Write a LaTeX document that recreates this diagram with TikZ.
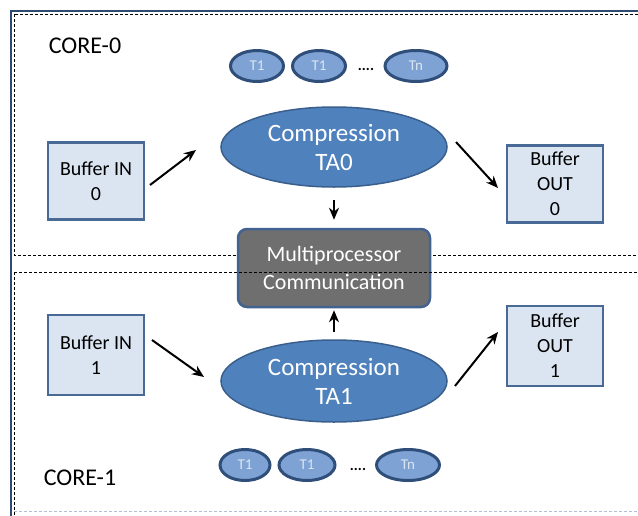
\documentclass[tikz,border=0pt]{standalone}
\usepackage{fontspec}
\setmainfont{Carlito}
\usetikzlibrary{positioning, shapes.geometric, arrows.meta}

\definecolor{navyline}{HTML}{2C4A72}
\definecolor{bufffill}{HTML}{DBE5F1}
\definecolor{buffline}{HTML}{4A6A96}
\definecolor{compfill}{HTML}{4F81BD}
\definecolor{compline}{HTML}{3A5F8C}
\definecolor{taskfill}{HTML}{7EA2D4}
\definecolor{taskline}{HTML}{2F4F7A}
\definecolor{mpfill}{HTML}{6F6F6F}
\definecolor{mpline}{HTML}{42628F}

\begin{document}
\begin{tikzpicture}[x=1pt, y=-1pt,
    buffbox/.style={draw=buffline, line width=2.5pt, fill=bufffill,
      minimum width=96pt, minimum height=77pt, align=center,
      font=\fontsize{20}{25}\selectfont},
    comp/.style={ellipse, draw=compline, line width=1.5pt, fill=compfill,
      minimum width=226pt, minimum height=80pt, inner sep=0pt, align=center,
      text=white, font=\fontsize{25}{29}\selectfont},
    task/.style={ellipse, draw=taskline, line width=3pt, fill=taskfill,
      minimum width=53pt, minimum height=31pt, inner sep=0pt,
      text=bufffill, font=\fontsize{15}{15}\selectfont},
    corelabel/.style={font=\fontsize{24}{24}\selectfont},
    dots/.style={font=\bfseries\fontsize{15}{15}\selectfont},
    flow/.style={-{Stealth[length=12pt, width=10pt]}, line width=2pt},
    ]
  \useasboundingbox (0,0) rectangle (638,515);

  % core frames
  \draw[line width=0.7pt, dash pattern=on 3pt off 2pt] (14,14) rectangle (645,255);
  \draw[navyline, line width=2.5pt] (11,520) -- (11,11) -- (645,11);

  \node[corelabel] (core0) at (85,46) {CORE-0};
  \node[corelabel] (core1) at (80,478) {CORE-1};

  % tasks of core 0
  \node[task] (t01) at (257,66) {T1};
  \node[task, right=6pt of t01] (t02) {T1};
  \node[task, minimum width=62pt] (t0n) at (416,66) {Tn};
  \node[dots] (d0) at (366,69) {....};

  % buffers and compression of core 0
  \node[buffbox] (in0) at (96,181) {Buffer IN\\0};
  \node[comp] (ta0) at (334,147) {Compression\\TA0};
  \node[buffbox] (out0) at (555,184) {Buffer\\OUT\\0};

  % multiprocessor link
  \node[draw=mpline, line width=2.5pt, fill=mpfill, rounded corners=9pt,
    minimum width=192pt, minimum height=78pt, align=center, text=white,
    font=\fontsize{22}{28}\selectfont] (mp) at (334,268)
    {Multiprocessor\\Communication};
  \draw[line width=0.7pt, dash pattern=on 3pt off 2pt] (14,272) -- (645,272);
  \draw[line width=0.7pt, dash pattern=on 3pt off 2pt] (14,272) -- (14,520);
  \draw[bufffill!70!buffline, line width=0.7pt, dash pattern=on 3pt off 2pt] (14,511) -- (645,511);

  % buffers and compression of core 1
  \node[buffbox, minimum height=80pt] (in1) at (96,355) {Buffer IN\\1};
  \node[comp, minimum height=82pt] (ta1) at (334,381) {Compression\\TA1};
  \node[buffbox, minimum height=80pt] (out1) at (555,346) {Buffer\\OUT\\1};

  % tasks of core 1
  \node[task, minimum width=50pt] (t11) at (245,465) {T1};
  \node[task, minimum width=56pt, right=6pt of t11] (t12) {T1};
  \node[task, minimum width=63pt] (t1n) at (408,465) {Tn};
  \node[dots] (d1) at (358,469) {....};

  % arrows
  \coordinate (a0s) at (150,185);
  \coordinate (a0e) at (196,150);
  \draw[flow] (a0s) -- (a0e);
  \coordinate (b0s) at (456,142);
  \coordinate (b0e) at (498,188);
  \draw[flow] (b0s) -- (b0e);
  \draw[flow, shorten <=12pt, shorten >=8pt] (ta0) -- (mp);
  \draw[flow, shorten <=7pt, shorten >=2pt] (ta1) -- (mp);
  \coordinate (a1s) at (152,340);
  \coordinate (a1e) at (204,377);
  \draw[flow] (a1s) -- (a1e);
  \coordinate (b1s) at (455,386);
  \coordinate (b1e) at (498,332);
  \draw[flow] (b1s) -- (b1e);
\end{tikzpicture}
\end{document}
